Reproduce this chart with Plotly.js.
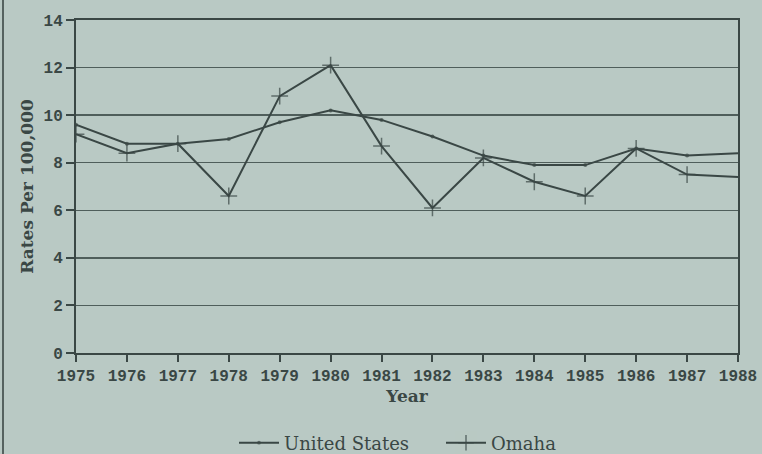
<!DOCTYPE html>
<html>
<head>
<meta charset="utf-8">
<script src="https://cdn.plot.ly/plotly-3.0.1.min.js"></script>
<style>
  html, body { margin: 0; padding: 0; background: #b9c9c4; }
  #chart { width: 762px; height: 454px; }
</style>
</head>
<body>
<div id="chart"></div>
<script>
const years = [1975, 1976, 1977, 1978, 1979, 1980, 1981, 1982, 1983, 1984, 1985, 1986, 1987, 1988];
const unitedStates = [9.6, 8.8, 8.8, 9.0, 9.7, 10.2, 9.8, 9.1, 8.3, 7.9, 7.9, 8.6, 8.3, 8.4];
const omaha = [9.2, 8.4, 8.8, 6.6, 10.8, 12.1, 8.7, 6.1, 8.2, 7.2, 6.6, 8.6, 7.5, 7.4];
const yTicks = [0, 2, 4, 6, 8, 10, 12, 14];

const ink = '#3a4745';
const bg = '#b9c9c4';

const usSizes = years.map((y, i) => i === years.length - 1 ? 0 : 4);
const omSizes = years.map((y, i) => i === years.length - 1 ? 0 : 12);

const traces = [
  {
    x: years, y: unitedStates, name: 'United States', type: 'scatter', mode: 'lines+markers',
    line: { color: ink, width: 2 },
    marker: { symbol: 'circle', size: usSizes, color: ink, line: { width: 0 } }
  },
  {
    x: years, y: omaha, name: 'Omaha', type: 'scatter', mode: 'lines+markers',
    line: { color: ink, width: 2 },
    marker: { symbol: 'cross-thin', size: omSizes, color: ink, line: { color: ink, width: 1.5 } }
  }
];

const layout = {
  width: 762, height: 454,
  paper_bgcolor: bg, plot_bgcolor: bg,
  margin: { l: 76, r: 24, t: 20, b: 101, autoexpand: false },
  showlegend: true,
  legend: {
    orientation: 'h', x: 234 / 762, xref: 'container', xanchor: 'left',
    y: 11 / 454, yref: 'container', yanchor: 'middle',
    font: { family: 'DejaVu Serif, serif', size: 18, color: ink },
    bgcolor: 'rgba(0,0,0,0)', itemwidth: 40, entrywidth: 152, entrywidthmode: 'pixels'
  },
  xaxis: {
    range: [1975, 1988], tickmode: 'array', tickvals: years, ticktext: years.map(String),
    showgrid: false, zeroline: false,
    showline: true, linecolor: ink, linewidth: 2, mirror: true,
    ticks: 'outside', ticklen: 7, tickwidth: 2, tickcolor: ink,
    tickfont: { family: 'Liberation Mono, monospace', size: 16, color: ink, weight: 'bold' },
    title: { text: 'Year', font: { family: 'DejaVu Serif, serif', size: 17, color: ink, weight: 'bold' }, standoff: 4 }
  },
  yaxis: {
    range: [0, 14], tickmode: 'array', tickvals: yTicks,
    showgrid: true, gridcolor: '#4f5e5b', gridwidth: 1.5, zeroline: false,
    showline: true, linecolor: ink, linewidth: 2, mirror: true,
    ticks: 'outside', ticklen: 8, tickwidth: 2, tickcolor: ink,
    tickfont: { family: 'Liberation Mono, monospace', size: 16, color: ink, weight: 'bold' },
    title: { text: 'Rates Per 100,000', font: { family: 'DejaVu Serif, serif', size: 17, color: ink, weight: 'bold' }, standoff: 6 }
  },
  shapes: [
    { type: 'line', xref: 'paper', yref: 'paper', x0: -73 / 662, x1: -73 / 662, y0: -101 / 333, y1: 20 / 333 + 1,
      line: { color: '#55625f', width: 2 } }
  ]
};

Plotly.newPlot('chart', traces, layout, { displayModeBar: false, staticPlot: true });
</script>
</body>
</html>
